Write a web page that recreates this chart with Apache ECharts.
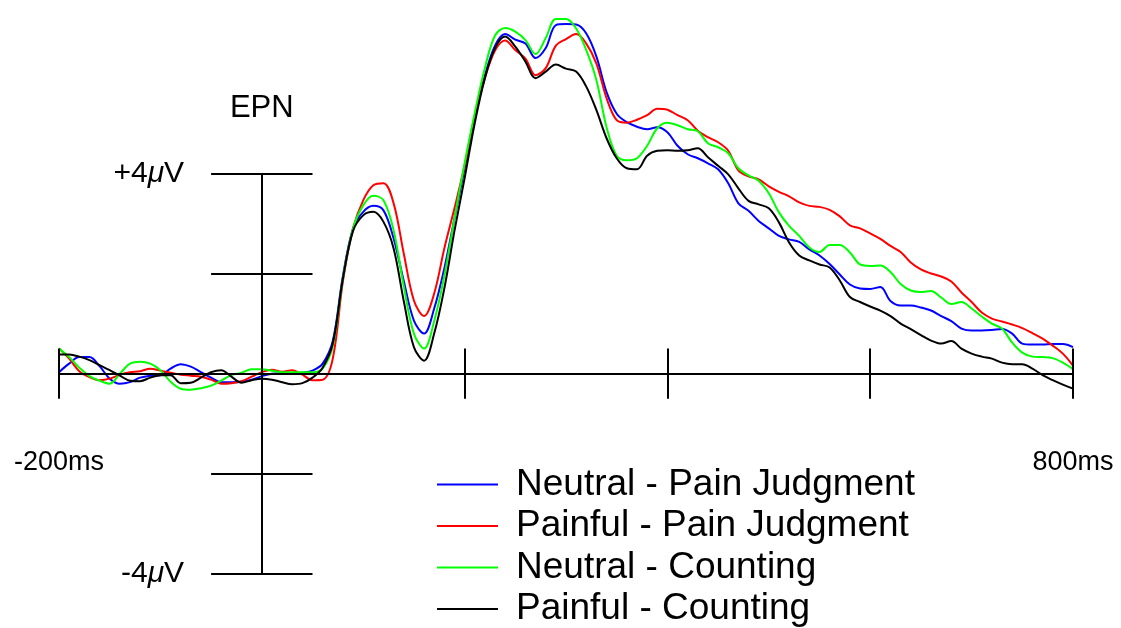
<!DOCTYPE html>
<html>
<head>
<meta charset="utf-8">
<title>EPN</title>
<script src="https://cdn.jsdelivr.net/npm/echarts@6/dist/echarts.min.js"></script>
<style>
  html, body { margin: 0; padding: 0; background: #fff; }
  #chart { width: 1121px; height: 628px; }
</style>
</head>
<body>
<div id="chart"></div>
<script>
// Sampling grid in ms (every 10 ms from -200 to 800)
const times = [];
for (let t = -200; t <= 800; t += 10) times.push(t);

// Grand-average ERP amplitudes (µV), one value per time sample
const neutralPain = [
  0.03, 0.2, 0.33, 0.33, 0.15, -0.1, -0.2, -0.17, -0.08, -0.04,
  -0.03, 0.1, 0.19, 0.14, 0.03, -0.08, -0.17, -0.17, -0.16, -0.12,
  -0.05, 0, 0.01, 0.01, 0.02, 0.06, 0.2, 0.65, 1.95, 2.9,
  3.23, 3.35, 3.26, 2.7, 1.85, 1.06, 0.8, 1.3, 2.1, 3.1,
  4.1, 5.1, 5.95, 6.55, 6.78, 6.67, 6.59, 6.3, 6.5, 6.96,
  6.98, 6.97, 6.79, 6.33, 5.62, 5.19, 5.02, 4.93, 4.88, 4.92,
  4.82, 4.55, 4.38, 4.3, 4.2, 4.08, 3.8, 3.4, 3.25, 3.05,
  2.9, 2.75, 2.68, 2.63, 2.48, 2.36, 2.19, 1.98, 1.78, 1.7,
  1.69, 1.73, 1.45, 1.36, 1.36, 1.32, 1.26, 1.15, 1.05, 0.9,
  0.86, 0.86, 0.87, 0.89, 0.8, 0.6, 0.58, 0.58, 0.59, 0.59,
  0.53
];
const painfulPain = [
  0.5, 0.3, 0.05, -0.07, -0.13, -0.1, -0.02, 0.03, 0.05, 0.1,
  0.06, 0.02, -0.02, -0.04, -0.06, -0.12, -0.2, -0.19, -0.15, -0.06,
  0.03, 0.08, 0.04, 0.07, -0.02, -0.13, -0.12, 0.3, 1.85, 2.9,
  3.46, 3.76, 3.8, 3.4, 2.4, 1.46, 1.15, 1.6, 2.5, 3.3,
  4.15, 5.15, 5.9, 6.45, 6.65, 6.46, 6.29, 5.96, 6.1, 6.55,
  6.68, 6.78, 6.59, 6.19, 5.5, 5.06, 5.01, 5.07, 5.16, 5.29,
  5.27, 5.16, 5.06, 4.85, 4.72, 4.62, 4.45, 4.06, 3.94, 3.88,
  3.74, 3.63, 3.54, 3.42, 3.35, 3.33, 3.27, 3.14, 2.96, 2.9,
  2.8, 2.69, 2.55, 2.43, 2.22, 2.08, 2.0, 1.94, 1.84, 1.62,
  1.43, 1.22, 1.1, 1.04, 0.98, 0.91, 0.81, 0.7, 0.56, 0.4,
  0.16
];
const neutralCount = [
  0.5, 0.33, 0.12, -0.05, -0.14, -0.2, 0.0, 0.2, 0.24, 0.2,
  0.07, -0.16, -0.3, -0.32, -0.29, -0.24, -0.14, -0.03, 0.02, 0.09,
  0.09, 0.06, 0.03, 0.03, 0.03, 0.03, 0.1, 0.55, 1.9, 2.9,
  3.36, 3.55, 3.46, 2.86, 1.75, 0.8, 0.5, 1.05, 1.95, 3.1,
  4.2, 5.2, 6.1, 6.75, 6.9, 6.83, 6.66, 6.38, 6.7, 7.08,
  7.08, 6.89, 6.46, 5.86, 4.92, 4.35, 4.26, 4.3, 4.55, 4.9,
  5.01, 4.96, 4.88, 4.84, 4.6, 4.52, 4.4, 4.1, 3.96, 3.85,
  3.6, 3.22, 2.95, 2.75, 2.52, 2.43, 2.57, 2.57, 2.42, 2.18,
  2.15, 2.16, 2.03, 1.79, 1.66, 1.63, 1.65, 1.52, 1.39, 1.43,
  1.3, 1.14, 1.0, 0.9, 0.62, 0.42, 0.34, 0.33, 0.31, 0.22,
  0.09
];
const painfulCount = [
  0.38, 0.38, 0.34, 0.27, 0.17, 0.07, -0.04, -0.14, -0.15, -0.08,
  -0.03, -0.03, -0.19, -0.18, -0.08, 0.03, 0.07, -0.06, -0.18, -0.13,
  -0.1, -0.12, -0.17, -0.21, -0.19, -0.08, 0.12, 0.6, 1.9, 2.85,
  3.16, 3.23, 3.03, 2.5, 1.45, 0.53, 0.26, 0.8, 1.7, 2.85,
  3.9, 5.0, 5.9, 6.5, 6.73, 6.53, 6.23, 5.9, 6.03, 6.17,
  6.09, 6.03, 5.73, 5.26, 4.7, 4.3, 4.1, 4.08, 4.35, 4.45,
  4.46, 4.45, 4.46, 4.5, 4.32, 4.15, 3.98, 3.7, 3.45, 3.38,
  3.3, 3.02, 2.62, 2.36, 2.26, 2.18, 2.12, 1.86, 1.53, 1.43,
  1.34, 1.26, 1.15, 1.0, 0.89, 0.77, 0.66, 0.6, 0.65, 0.5,
  0.4, 0.34, 0.3, 0.22, 0.19, 0.19, 0.1, -0.03, -0.13, -0.22,
  -0.3
];

const seriesNames = [
  'Neutral - Pain Judgment',
  'Painful - Pain Judgment',
  'Neutral - Counting',
  'Painful - Counting'
];
const seriesColors = ['#0000ff', '#ff0000', '#00ff00', '#000000'];
const seriesValues = [neutralPain, painfulPain, neutralCount, painfulCount];

// Axis annotations (drawn in data coordinates, crossing at 0 ms / 0 µV)
const timeRange = [-200, 800];
const timeTicks = [-200, 200, 400, 600, 800];
const timeTickLabels = [
  { t: -200, text: '-200ms' },
  { t: 800, text: '800ms' }
];
const timeTickHalfHeight = 0.5;   // µV above and below the baseline
const timeLabelLevel = -1.77;     // µV
const voltTicks = [-4, -2, 2, 4];
const voltLabels = { '4': '+4{m|μ}V', '-4': '-4{m|μ}V' };
const voltTickHalfWidth = 50;     // ms either side of the 0 ms line
const componentName = 'EPN';
const componentLabelLevel = 5.3;  // µV

const FONT = '"Liberation Sans", Arial, Helvetica, sans-serif';

const chart = echarts.init(document.getElementById('chart'), null, { renderer: 'canvas' });

const curveSeries = seriesValues.map((vals, i) => ({
  name: seriesNames[i],
  type: 'line',
  data: times.map((t, k) => [t, vals[k]]),
  symbol: 'none',
  smooth: 0.35,
  lineStyle: { color: seriesColors[i], width: 2 },
  itemStyle: { color: seriesColors[i] },
  emphasis: { disabled: true },
  animation: false,
  z: 3
}));

// baseline with time ticks
const timeAxisLines = [
  [{ coord: [timeRange[0], 0] }, { coord: [timeRange[1], 0] }]
].concat(timeTicks.map(t => [
  { coord: [t, -timeTickHalfHeight] }, { coord: [t, timeTickHalfHeight] }
]));

// vertical voltage scale at 0 ms with its tick bars and labels
const voltScaleLines = [
  [{ coord: [0, voltTicks[0]] }, { coord: [0, voltTicks[voltTicks.length - 1]] }]
].concat(voltTicks.map(v => {
  const start = { coord: [-voltTickHalfWidth, v] };
  if (voltLabels[String(v)]) {
    start.label = {
      show: true,
      position: 'start',
      distance: 27,
      formatter: voltLabels[String(v)],
      color: '#000',
      fontFamily: FONT,
      fontSize: 30,
      rich: { m: { fontStyle: 'italic', fontFamily: FONT, fontSize: 30, color: '#000' } }
    };
  }
  return [start, { coord: [voltTickHalfWidth, v] }];
}));

const textPoints = [{
  coord: [0, componentLabelLevel],
  label: { show: true, position: 'inside', formatter: componentName,
           color: '#000', fontFamily: FONT, fontSize: 31 }
}].concat(timeTickLabels.map(d => ({
  coord: [d.t, timeLabelLevel],
  label: { show: true, position: 'inside', formatter: d.text,
           color: '#000', fontFamily: FONT, fontSize: 27 }
})));

const scaleSeries = {
  name: 'scale',
  type: 'line',
  data: [],
  silent: true,
  animation: false,
  markLine: {
    silent: true,
    animation: false,
    symbol: ['none', 'none'],
    lineStyle: { color: '#000', width: 2, type: 'solid' },
    label: { show: false },
    emphasis: { disabled: true },
    data: timeAxisLines.concat(voltScaleLines)
  },
  markPoint: {
    silent: true,
    animation: false,
    symbol: 'circle',
    symbolSize: 0,
    data: textPoints
  },
  z: 2
};

chart.setOption({
  backgroundColor: '#ffffff',
  animation: false,
  grid: { left: 59, right: 48, top: 3, bottom: 54, containLabel: false, outerBoundsMode: 'none' },
  xAxis: { type: 'value', show: false, min: timeRange[0], max: timeRange[1], splitLine: { show: false } },
  yAxis: { type: 'value', show: false, min: -4, max: 7.4, splitLine: { show: false } },
  legend: {
    data: seriesNames,
    orient: 'vertical',
    left: 437,
    top: 466,
    padding: 0,
    icon: 'rect',
    itemWidth: 61,
    itemHeight: 2,
    itemGap: 4.5,
    textStyle: {
      color: '#000', fontFamily: FONT, fontSize: 37, lineHeight: 37,
      padding: [0, 0, 0, 13]
    },
    selectedMode: false
  },
  series: curveSeries.concat([scaleSeries])
});
</script>
</body>
</html>
